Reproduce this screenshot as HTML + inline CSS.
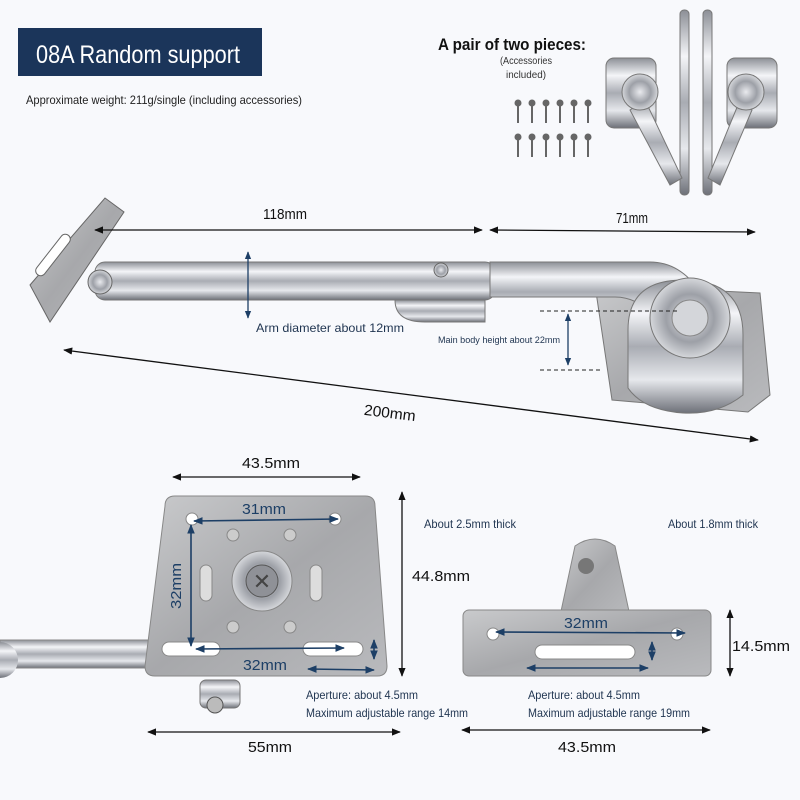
<!DOCTYPE html>
<html><head><meta charset="utf-8"><style>
html,body{margin:0;padding:0;background:#f8f9fc;}
svg{display:block}
text{font-family:"Liberation Sans",sans-serif;}
</style></head><body>
<svg width="800" height="800" viewBox="0 0 800 800" xmlns="http://www.w3.org/2000/svg">
<defs>
<linearGradient id="chr" x1="0" y1="0" x2="0" y2="1">
<stop offset="0" stop-color="#8c8f96"/><stop offset=".25" stop-color="#f4f5f8"/><stop offset=".5" stop-color="#a9acb3"/><stop offset=".75" stop-color="#e6e8ec"/><stop offset="1" stop-color="#6d7078"/></linearGradient>
<linearGradient id="plate" x1="0" y1="0" x2="1" y2="1">
<stop offset="0" stop-color="#c9cacc"/><stop offset=".5" stop-color="#a7a8ab"/><stop offset="1" stop-color="#b9babd"/></linearGradient>
<radialGradient id="knob"><stop offset="0" stop-color="#e9eaee"/><stop offset=".6" stop-color="#9da0a7"/><stop offset="1" stop-color="#d5d7db"/></radialGradient>
<marker id="a" viewBox="0 0 10 10" refX="9" refY="5" markerWidth="7" markerHeight="7" orient="auto-start-reverse"><path d="M0 1L10 5L0 9z" fill="#111"/></marker>
<marker id="b" viewBox="0 0 10 10" refX="9" refY="5" markerWidth="6" markerHeight="6" orient="auto-start-reverse"><path d="M0 1L10 5L0 9z" fill="#1d3f66"/></marker>
</defs>
<rect width="800" height="800" fill="#f8f9fc"/>
<rect x="18" y="28" width="244" height="48" fill="#1b355a"/>
<text x="36" y="63" font-size="25" fill="#fff" textLength="204" lengthAdjust="spacingAndGlyphs">08A Random support</text>
<text x="26" y="104" font-size="12" fill="#222" textLength="276" lengthAdjust="spacingAndGlyphs">Approximate weight: 211g/single (including accessories)</text>
<text x="438" y="50" font-size="17" fill="#111" font-weight="bold" textLength="148" lengthAdjust="spacingAndGlyphs">A pair of two pieces:</text>
<text x="526" y="64" font-size="10" fill="#333" text-anchor="middle" textLength="52" lengthAdjust="spacingAndGlyphs">(Accessories</text>
<text x="526" y="78" font-size="10" fill="#333" text-anchor="middle" textLength="40" lengthAdjust="spacingAndGlyphs">included)</text>
<g fill="#666">
<g id="sr"><circle cx="518" cy="103" r="3.5"/><rect x="517" y="103" width="2" height="20"/><circle cx="532" cy="103" r="3.5"/><rect x="531" y="103" width="2" height="20"/><circle cx="546" cy="103" r="3.5"/><rect x="545" y="103" width="2" height="20"/><circle cx="560" cy="103" r="3.5"/><rect x="559" y="103" width="2" height="20"/><circle cx="574" cy="103" r="3.5"/><rect x="573" y="103" width="2" height="20"/><circle cx="588" cy="103" r="3.5"/><rect x="587" y="103" width="2" height="20"/></g>
<use href="#sr" y="34"/></g>
<g fill="url(#chr)" stroke="#777" stroke-width="1">
<rect x="606" y="58" width="50" height="70" rx="8"/>
<rect x="727" y="58" width="50" height="70" rx="8"/>
<rect x="680" y="10" width="9" height="185" rx="4"/>
<rect x="703" y="10" width="9" height="185" rx="4"/>
<path d="M630 110 L670 185 L682 178 L645 100z"/>
<path d="M752 110 L720 185 L708 178 L740 100z"/>
<circle cx="640" cy="92" r="18" fill="url(#knob)"/>
<circle cx="746" cy="92" r="18" fill="url(#knob)"/>
</g>
<path d="M30 285 L105 198 L124 212 L50 322z" fill="url(#plate)" stroke="#666"/>
<rect x="48" y="230" width="10" height="50" rx="5" fill="#fff" stroke="#666" transform="rotate(38 53 255)"/>
<rect x="95" y="262" width="400" height="38" rx="10" fill="url(#chr)" stroke="#777"/>
<circle cx="100" cy="282" r="12" fill="url(#knob)" stroke="#666"/>
<circle cx="441" cy="270" r="7" fill="url(#knob)" stroke="#666"/>
<path d="M395 300 h90 v22 h-60 q-30 0-30-22z" fill="url(#chr)" stroke="#777"/>
<path d="M595 285 L760 293 L770 395 L748 412 L612 400z" fill="url(#plate)" stroke="#777"/>
<path d="M490 262 h160 q30 0 50 30 l-40 30 q-20-25-45-25 h-125z" fill="url(#chr)" stroke="#777"/>
<path d="M628 330 q0-50 55-50 q60 0 60 55 v60 q-25 20-60 18 q-40-3-55-25z" fill="url(#chr)" stroke="#777"/>
<circle cx="690" cy="318" r="40" fill="url(#knob)" stroke="#777"/>
<circle cx="690" cy="318" r="18" fill="#d4d6da" stroke="#888"/>
<g stroke="#111" stroke-width="1.3" fill="none">
<line x1="95" y1="230" x2="482" y2="230" marker-start="url(#a)" marker-end="url(#a)"/>
<line x1="490" y1="230" x2="755" y2="232" marker-start="url(#a)" marker-end="url(#a)"/>
<line x1="64" y1="350" x2="758" y2="440" marker-start="url(#a)" marker-end="url(#a)"/>
</g>
<g stroke="#1d3f66" stroke-width="1.3"><line x1="248" y1="252" x2="248" y2="318" marker-start="url(#b)" marker-end="url(#b)"/>
<line x1="568" y1="314" x2="568" y2="365" marker-start="url(#b)" marker-end="url(#b)"/></g>
<g stroke="#222" stroke-dasharray="4 3"><line x1="540" y1="311" x2="680" y2="311"/><line x1="540" y1="370" x2="600" y2="370"/></g>
<text x="285" y="219" font-size="15" text-anchor="middle" fill="#111" textLength="44" lengthAdjust="spacingAndGlyphs">118mm</text>
<text x="632" y="223" font-size="15" text-anchor="middle" fill="#111" textLength="32" lengthAdjust="spacingAndGlyphs">71mm</text>
<text x="390" y="418" font-size="15" text-anchor="middle" fill="#111" transform="rotate(7 390 412)" textLength="52" lengthAdjust="spacingAndGlyphs">200mm</text>
<text x="256" y="332" font-size="12" fill="#1f3450" textLength="148" lengthAdjust="spacingAndGlyphs">Arm diameter about 12mm</text>
<text x="438" y="343" font-size="9" fill="#1f3450" textLength="122" lengthAdjust="spacingAndGlyphs">Main body height about 22mm</text>
<rect x="0" y="640" width="190" height="28" fill="url(#chr)" stroke="#888"/>
<circle cx="0" cy="660" r="18" fill="url(#chr)"/>
<rect x="200" y="680" width="40" height="28" rx="6" fill="url(#chr)" stroke="#777"/>
<circle cx="215" cy="705" r="8" fill="#bbb" stroke="#555"/>
<path d="M175 496 h190 q10 0 10 10 l12 160 q0 10-10 10 h-222 q-10 0-10-10 l20-160 q0-10 10-10z" fill="url(#plate)" stroke="#888"/>
<g fill="#fff" stroke="#888"><circle cx="192" cy="519" r="6"/><circle cx="335" cy="519" r="6"/>
<rect x="162" y="642" width="58" height="14" rx="7"/><rect x="303" y="642" width="60" height="14" rx="7"/>
<rect x="200" y="565" width="12" height="36" rx="6" fill="#ddd"/><rect x="310" y="565" width="12" height="36" rx="6" fill="#ddd"/>
<circle cx="233" cy="535" r="6" fill="#ccc"/><circle cx="290" cy="535" r="6" fill="#ccc"/><circle cx="233" cy="627" r="6" fill="#ccc"/><circle cx="290" cy="627" r="6" fill="#ccc"/></g>
<circle cx="262" cy="581" r="30" fill="url(#knob)" stroke="#888"/>
<circle cx="262" cy="581" r="16" fill="#8f9197" stroke="#555"/>
<text x="262" y="589" font-size="22" text-anchor="middle" fill="#444">✕</text>
<path d="M560 616 l15-70 q20-14 40 0 l15 70z" fill="url(#plate)" stroke="#888"/>
<circle cx="586" cy="566" r="8" fill="#777"/>
<rect x="463" y="610" width="248" height="66" rx="6" fill="url(#plate)" stroke="#888"/>
<g fill="#fff" stroke="#888"><circle cx="493" cy="634" r="6"/><circle cx="677" cy="634" r="6"/><rect x="535" y="645" width="100" height="14" rx="7"/></g>
<g stroke="#111" stroke-width="1.3">
<line x1="173" y1="477" x2="360" y2="477" marker-start="url(#a)" marker-end="url(#a)"/>
<line x1="402" y1="492" x2="402" y2="676" marker-start="url(#a)" marker-end="url(#a)"/>
<line x1="148" y1="732" x2="400" y2="732" marker-start="url(#a)" marker-end="url(#a)"/>
<line x1="462" y1="730" x2="710" y2="730" marker-start="url(#a)" marker-end="url(#a)"/>
<line x1="730" y1="610" x2="730" y2="676" marker-start="url(#a)" marker-end="url(#a)"/>
</g>
<g stroke="#1d3f66" stroke-width="1.6">
<line x1="194" y1="521" x2="338" y2="519" marker-start="url(#b)" marker-end="url(#b)"/>
<line x1="191" y1="525" x2="191" y2="646" marker-start="url(#b)" marker-end="url(#b)"/>
<line x1="196" y1="649" x2="344" y2="648" marker-start="url(#b)" marker-end="url(#b)"/>
<line x1="308" y1="669" x2="374" y2="670" marker-start="url(#b)" marker-end="url(#b)"/>
<line x1="374" y1="640" x2="374" y2="659" marker-start="url(#b)" marker-end="url(#b)"/>
<line x1="496" y1="632" x2="685" y2="633" marker-start="url(#b)" marker-end="url(#b)"/>
<line x1="527" y1="668" x2="648" y2="668" marker-start="url(#b)" marker-end="url(#b)"/>
<line x1="652" y1="642" x2="652" y2="660" marker-start="url(#b)" marker-end="url(#b)"/>
</g>
<g fill="#111" font-size="15">
<text x="271" y="468" text-anchor="middle" textLength="58" lengthAdjust="spacingAndGlyphs">43.5mm</text>
<text x="412" y="581" textLength="58" lengthAdjust="spacingAndGlyphs">44.8mm</text>
<text x="270" y="752" text-anchor="middle" textLength="44" lengthAdjust="spacingAndGlyphs">55mm</text>
<text x="587" y="752" text-anchor="middle" textLength="58" lengthAdjust="spacingAndGlyphs">43.5mm</text>
<text x="732" y="651" textLength="58" lengthAdjust="spacingAndGlyphs">14.5mm</text>
</g>
<g fill="#1d3f66" font-size="15">
<text x="264" y="514" text-anchor="middle" textLength="44" lengthAdjust="spacingAndGlyphs">31mm</text>
<text x="265" y="670" text-anchor="middle" textLength="44" lengthAdjust="spacingAndGlyphs">32mm</text>
<text x="181" y="586" text-anchor="middle" transform="rotate(-90 181 586)" textLength="46" lengthAdjust="spacingAndGlyphs">32mm</text>
<text x="586" y="628" text-anchor="middle" textLength="44" lengthAdjust="spacingAndGlyphs">32mm</text>
</g>
<g fill="#1f3450" font-size="12">
<text x="424" y="528" textLength="92" lengthAdjust="spacingAndGlyphs">About 2.5mm thick</text>
<text x="668" y="528" textLength="90" lengthAdjust="spacingAndGlyphs">About 1.8mm thick</text>
<text x="306" y="699" textLength="112" lengthAdjust="spacingAndGlyphs">Aperture: about 4.5mm</text>
<text x="306" y="717" textLength="162" lengthAdjust="spacingAndGlyphs">Maximum adjustable range 14mm</text>
<text x="528" y="699" textLength="112" lengthAdjust="spacingAndGlyphs">Aperture: about 4.5mm</text>
<text x="528" y="717" textLength="162" lengthAdjust="spacingAndGlyphs">Maximum adjustable range 19mm</text>
</g>
</svg>
</body></html>
